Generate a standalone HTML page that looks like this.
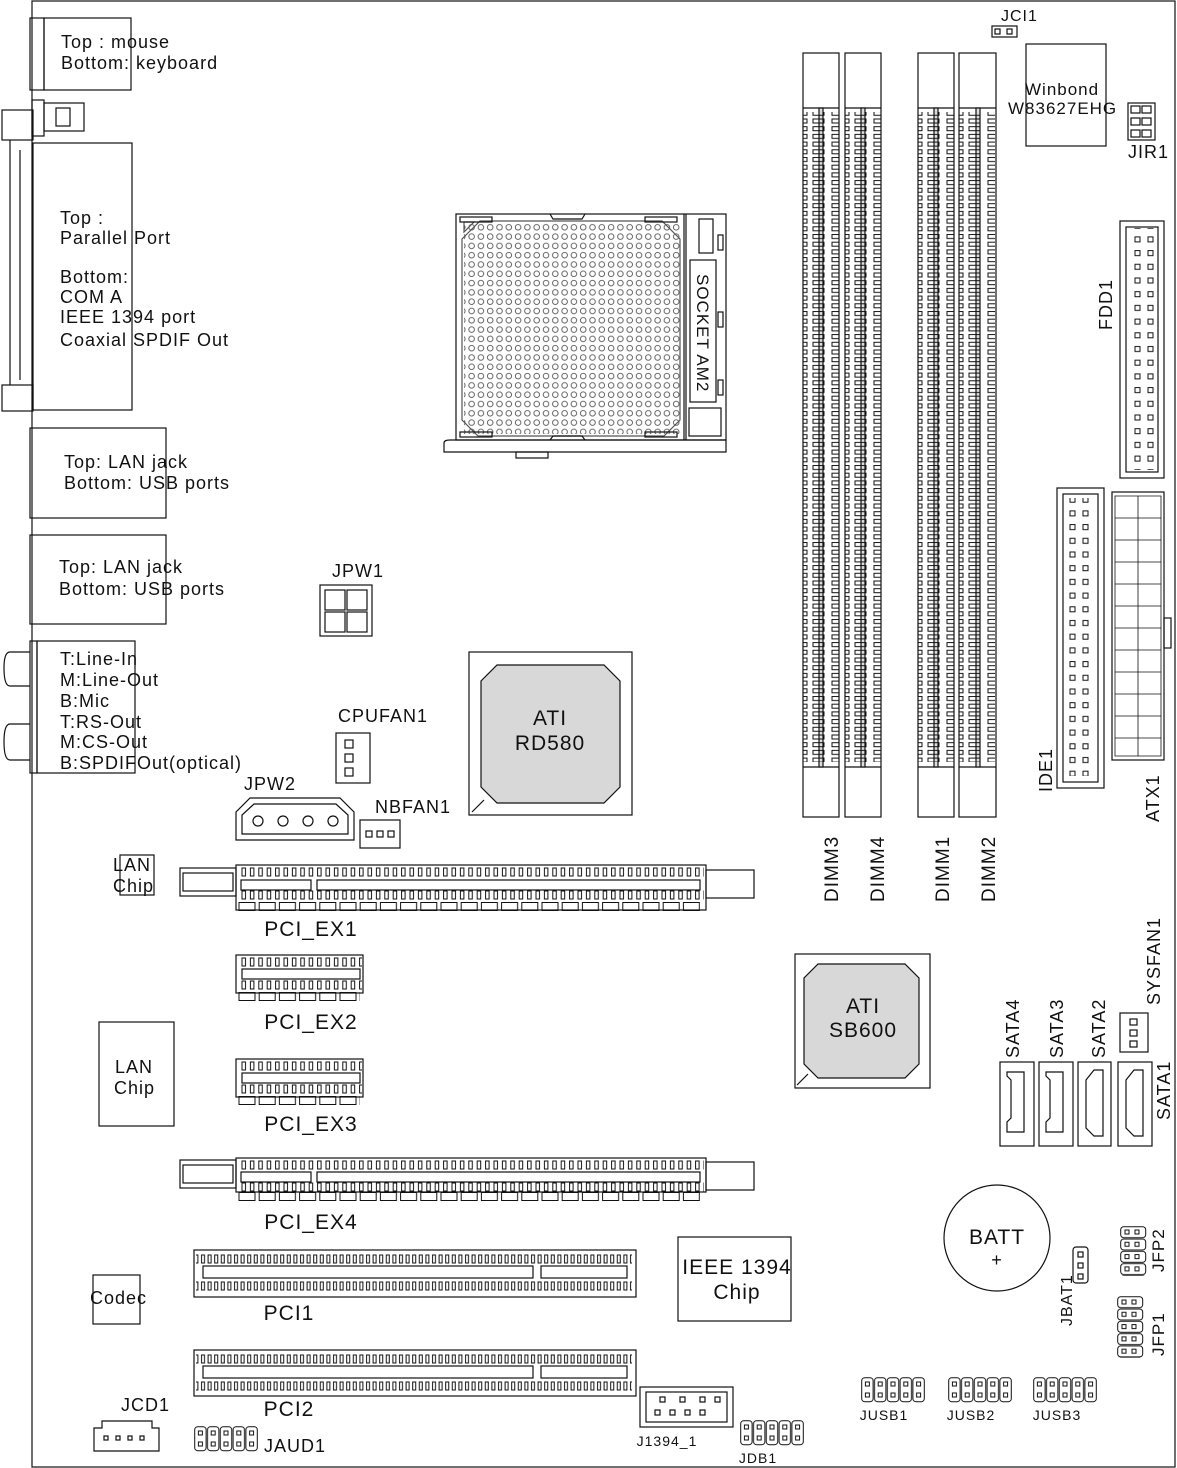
<!DOCTYPE html>
<html><head><meta charset="utf-8"><style>
html,body{margin:0;padding:0;background:#fff}
svg{display:block}
text{font-family:"Liberation Sans",sans-serif;fill:#111}
</style></head><body>
<svg width="1177" height="1468" viewBox="0 0 1177 1468" xmlns="http://www.w3.org/2000/svg">
<defs>
<pattern id="pins" x="467" y="232" width="9.3" height="9.3" patternUnits="userSpaceOnUse">
<circle cx="4.6" cy="4.6" r="2.8" fill="none" stroke="#555" stroke-width="0.9"/></pattern>
<pattern id="dimm" x="0" y="118" width="36" height="7.7" patternUnits="userSpaceOnUse">
<rect x="4" y="1" width="11" height="4" fill="none" stroke="#111" stroke-width="1"/>
<rect x="21" y="1" width="11" height="4" fill="none" stroke="#111" stroke-width="1"/></pattern>
<pattern id="pcie" x="240" y="0" width="8.4" height="10" patternUnits="userSpaceOnUse">
<rect x="2" y="1" width="3.5" height="8" fill="none" stroke="#111" stroke-width="1"/></pattern>
<pattern id="tabs" x="238" y="0" width="20.2" height="10" patternUnits="userSpaceOnUse">
<rect x="1" y="0.5" width="16" height="8" fill="none" stroke="#111" stroke-width="1"/></pattern>
<pattern id="pci" x="200" y="0" width="6.6" height="10" patternUnits="userSpaceOnUse">
<rect x="1.5" y="1" width="3" height="8" fill="none" stroke="#111" stroke-width="1"/></pattern>
<pattern id="hcol" x="0" y="0" width="12.8" height="26" patternUnits="userSpaceOnUse">
<rect x="0.7" y="0.7" width="11.4" height="24" rx="3" fill="none" stroke="#111" stroke-width="1"/>
<rect x="4.4" y="5" width="4" height="4" fill="none" stroke="#111" stroke-width="1"/>
<rect x="4.4" y="16" width="4" height="4" fill="none" stroke="#111" stroke-width="1"/></pattern>
<pattern id="hrow" x="0" y="0" width="28" height="12.3" patternUnits="userSpaceOnUse">
<rect x="0.7" y="0.7" width="25" height="11" rx="3" fill="none" stroke="#111" stroke-width="1"/>
<rect x="5" y="4" width="4" height="4" fill="none" stroke="#111" stroke-width="1"/>
<rect x="15" y="4" width="4" height="4" fill="none" stroke="#111" stroke-width="1"/></pattern>
<pattern id="hdrv" x="0" y="0" width="13" height="13.7" patternUnits="userSpaceOnUse">
<rect x="4" y="4" width="5" height="5" fill="none" stroke="#111" stroke-width="1"/></pattern>
</defs>
<g fill="none" stroke="#111" stroke-width="1.2">
<rect x="32" y="1" width="1143" height="1466"/>
<rect x="44" y="18" width="87" height="72"/>
<rect x="30" y="18" width="14" height="72"/>
<rect x="32" y="100" width="12" height="36"/><rect x="44" y="103" width="40" height="28"/><rect x="56" y="108" width="14" height="18"/>
<rect x="33" y="143" width="99" height="267"/>
<rect x="2" y="110" width="31" height="30"/><rect x="2" y="385" width="31" height="26"/>
<path d="M10 140 V385 M20 150 V380"/>
<rect x="30" y="428" width="136" height="90"/>
<rect x="30" y="535" width="136" height="89"/>
<rect x="37" y="641" width="98" height="132"/>
<rect x="30" y="641" width="7" height="132"/>
<path d="M30 652 H10 Q4 652 4 668 Q4 686 10 686 H30 M30 724 H10 Q4 724 4 742 Q4 760 10 760 H30"/>
<!-- socket -->
<rect x="456" y="214" width="270" height="226"/>
<path d="M444 452 V443 Q444 440 450 440 H726 V452 Z"/>
<rect x="516" y="452" width="32" height="6"/>
<path d="M480 221 H662 L680 239 V420 L664 436 H478 L462 420 V239 Z" stroke="#555"/>
<rect x="464" y="222" width="216" height="212" fill="url(#pins)" stroke="none"/>
<path d="M464 222 H474 L464 232 Z" stroke="#555"/>
<rect x="460" y="217" width="32" height="5"/><rect x="645" y="217" width="32" height="5"/>
<rect x="460" y="432" width="32" height="5"/><rect x="645" y="432" width="32" height="5"/>
<path d="M550 214 L553 219 H582 L585 214 M550 440 L553 436 H582 L585 440"/>
<path d="M684 214 V440 M686 214 V440"/>
<rect x="699" y="219" width="14" height="34"/><rect x="718" y="235" width="5" height="15"/>
<rect x="690" y="260" width="26" height="142"/>
<rect x="718" y="312" width="5" height="15"/><rect x="718" y="380" width="5" height="15"/>
<rect x="689" y="408" width="32" height="28"/>
<rect x="320" y="585" width="52" height="51"/><rect x="325" y="590" width="20" height="20"/><rect x="347" y="590" width="20" height="20"/><rect x="325" y="612" width="20" height="20"/><rect x="347" y="612" width="20" height="20"/>
<rect x="336" y="733" width="34" height="50"/><rect x="345" y="740" width="8" height="8"/><rect x="345" y="754" width="8" height="8"/><rect x="345" y="768" width="8" height="8"/>
<path d="M236 840 V812 L250 798 H340 L354 812 V840 Z"/><path d="M242 834 V815 L254 804 H336 L348 815 V834 Z"/>
<circle cx="258" cy="821" r="5"/><circle cx="283" cy="821" r="5"/><circle cx="308" cy="821" r="5"/><circle cx="333" cy="821" r="5"/>
<rect x="360" y="820" width="40" height="28"/><rect x="366" y="831" width="6" height="6"/><rect x="377" y="831" width="6" height="6"/><rect x="388" y="831" width="6" height="6"/>
<rect x="469" y="652" width="163" height="163"/>
<path d="M497 665 H604 L620 681 V787 L604 803 H497 L481 787 V681 Z" fill="#d8d8d8"/>
<path d="M472 812 L484 800"/>
<rect x="120" y="855" width="34" height="40"/>
<!-- PCI_EX1 -->
<rect x="236" y="865" width="470" height="45"/>
<rect x="180" y="868" width="56" height="28"/><rect x="183" y="873" width="50" height="18"/>
<rect x="706" y="870" width="48" height="28"/>
<rect x="241" y="880" width="70" height="10"/><rect x="317" y="880" width="383" height="10"/>
<g transform="translate(0 867)"><rect x="238" y="0" width="466" height="10" fill="url(#pcie)" stroke="none"/></g>
<g transform="translate(0 890)"><rect x="238" y="0" width="466" height="10" fill="url(#pcie)" stroke="none"/></g>
<g transform="translate(0 902)"><rect x="238" y="0" width="462" height="10" fill="url(#tabs)" stroke="none"/></g>
<rect x="236" y="955" width="127" height="38"/><rect x="242" y="969" width="118" height="10"/>
<g transform="translate(0 957)"><rect x="238" y="0" width="124" height="10" fill="url(#pcie)" stroke="none"/></g>
<g transform="translate(0 980)"><rect x="238" y="0" width="124" height="10" fill="url(#pcie)" stroke="none"/></g>
<g transform="translate(0 992)"><rect x="238" y="0" width="122" height="10" fill="url(#tabs)" stroke="none"/></g>
<rect x="236" y="1059" width="127" height="38"/><rect x="242" y="1073" width="118" height="10"/>
<g transform="translate(0 1061)"><rect x="238" y="0" width="124" height="10" fill="url(#pcie)" stroke="none"/></g>
<g transform="translate(0 1084)"><rect x="238" y="0" width="124" height="10" fill="url(#pcie)" stroke="none"/></g>
<g transform="translate(0 1096)"><rect x="238" y="0" width="122" height="10" fill="url(#tabs)" stroke="none"/></g>
<rect x="236" y="1158" width="470" height="34"/>
<rect x="180" y="1160" width="56" height="28"/><rect x="183" y="1165" width="50" height="18"/><rect x="706" y="1162" width="48" height="28"/>
<rect x="241" y="1172" width="70" height="10"/><rect x="317" y="1172" width="383" height="10"/>
<g transform="translate(0 1160)"><rect x="238" y="0" width="466" height="10" fill="url(#pcie)" stroke="none"/></g>
<g transform="translate(0 1182)"><rect x="238" y="0" width="466" height="10" fill="url(#pcie)" stroke="none"/></g>
<g transform="translate(0 1192)"><rect x="238" y="0" width="462" height="10" fill="url(#tabs)" stroke="none"/></g>
<rect x="99" y="1022" width="75" height="104"/>
<rect x="194" y="1250" width="442" height="47"/><rect x="203" y="1266" width="330" height="12"/><rect x="541" y="1266" width="86" height="12"/>
<g transform="translate(0 1254)"><rect x="196" y="0" width="436" height="10" fill="url(#pci)" stroke="none"/></g>
<g transform="translate(0 1281)"><rect x="196" y="0" width="436" height="10" fill="url(#pci)" stroke="none"/></g>
<rect x="194" y="1350" width="442" height="46"/><rect x="203" y="1366" width="330" height="12"/><rect x="541" y="1366" width="86" height="12"/>
<g transform="translate(0 1354)"><rect x="196" y="0" width="436" height="10" fill="url(#pci)" stroke="none"/></g>
<g transform="translate(0 1381)"><rect x="196" y="0" width="436" height="10" fill="url(#pci)" stroke="none"/></g>
<rect x="93" y="1275" width="47" height="49"/>
<path d="M94 1451 V1428 H102 V1421 H152 V1428 H159 V1451 Z"/>
<rect x="104" y="1436" width="4" height="4"/><rect x="116" y="1436" width="4" height="4"/><rect x="128" y="1436" width="4" height="4"/><rect x="140" y="1436" width="4" height="4"/>
<g transform="translate(194 1426)"><rect x="0" y="0" width="64" height="26" fill="url(#hcol)" stroke="none"/></g>
<rect x="678" y="1237" width="113" height="84"/>
<rect x="640" y="1387" width="93" height="40"/><rect x="646" y="1392" width="81" height="30"/>
<rect x="660" y="1397" width="5" height="5"/><rect x="680" y="1397" width="5" height="5"/><rect x="700" y="1397" width="5" height="5"/><rect x="715" y="1397" width="5" height="5"/>
<rect x="655" y="1410" width="5" height="5"/><rect x="670" y="1410" width="5" height="5"/><rect x="685" y="1410" width="5" height="5"/><rect x="700" y="1410" width="5" height="5"/>
<g transform="translate(740 1420)"><rect x="0" y="0" width="64" height="26" fill="url(#hcol)" stroke="none"/></g>
<rect x="795" y="954" width="135" height="134"/>
<path d="M818 964 H905 L919 978 V1064 L905 1078 H818 L804 1064 V978 Z" fill="#d8d8d8"/>
<path d="M797 1085 L808 1074"/>
<!-- DIMMs -->
<rect x="803" y="53" width="36" height="764"/><path d="M803 108 H839 M803 767 H839"/><rect x="819" y="108" width="4" height="659" fill="#ddd"/>
<rect x="803" y="112" width="36" height="650" fill="url(#dimm)" stroke="none"/>
<g transform="translate(42 0)"><rect x="803" y="53" width="36" height="764"/><path d="M803 108 H839 M803 767 H839"/><rect x="819" y="108" width="4" height="659" fill="#ddd"/>
<rect x="803" y="112" width="36" height="650" fill="url(#dimm)" stroke="none"/></g>
<g transform="translate(115 0)"><rect x="803" y="53" width="36" height="764"/><path d="M803 108 H839 M803 767 H839"/><rect x="819" y="108" width="4" height="659" fill="#ddd"/>
<rect x="803" y="112" width="36" height="650" fill="url(#dimm)" stroke="none"/></g>
<g transform="translate(156 0)"><rect x="803" y="53" width="37" height="764"/><path d="M803 108 H840 M803 767 H840"/><rect x="820" y="108" width="4" height="659" fill="#ddd"/>
<rect x="803" y="112" width="36" height="650" fill="url(#dimm)" stroke="none"/></g>
<rect x="1026" y="44" width="80" height="102"/>
<rect x="992" y="26" width="25" height="11"/><rect x="995" y="29" width="5" height="5"/><rect x="1007" y="29" width="5" height="5"/>
<rect x="1128" y="103" width="27" height="37"/><rect x="1131" y="106" width="9" height="7"/><rect x="1142" y="106" width="9" height="7"/><rect x="1131" y="118" width="9" height="7"/><rect x="1142" y="118" width="9" height="7"/><rect x="1131" y="130" width="9" height="7"/><rect x="1142" y="130" width="9" height="7"/>
<rect x="1120" y="221" width="44" height="257"/><rect x="1126" y="227" width="32" height="245"/>
<rect x="1129" y="228" width="26" height="242" fill="url(#hdrv)" stroke="none"/>
<rect x="1057" y="488" width="47" height="300"/><rect x="1063" y="494" width="35" height="288"/>
<rect x="1068" y="498" width="26" height="278" fill="url(#hdrv)" stroke="none"/>
<rect x="1112" y="492" width="52" height="268"/><rect x="1164" y="618" width="7" height="30"/>
<path d="M1115 496 H1161 V756 H1115 Z M1138 496 V756 M1115 518 H1161 M1115 540 H1161 M1115 562 H1161 M1115 584 H1161 M1115 606 H1161 M1115 628 H1161 M1115 650 H1161 M1115 672 H1161 M1115 694 H1161 M1115 716 H1161 M1115 738 H1161" stroke-width="0.8"/>
<rect x="1120" y="1013" width="28" height="39"/><rect x="1130" y="1019" width="7" height="6"/><rect x="1130" y="1030" width="7" height="6"/><rect x="1130" y="1041" width="7" height="6"/>
<rect x="1000" y="1062" width="34" height="84"/><path d="M1007 1072 H1024 V1132 H1007 V1122 L1011 1118 V1080 L1007 1076 Z"/>
<rect x="1039" y="1062" width="34" height="84"/><path d="M1046 1072 H1063 V1132 H1046 V1122 L1050 1118 V1080 L1046 1076 Z"/>
<rect x="1078" y="1062" width="33" height="84"/><path d="M1086 1080 L1094 1070 H1103 V1136 H1094 L1086 1128 Z"/>
<rect x="1118" y="1062" width="34" height="84"/><path d="M1126 1080 L1134 1070 H1143 V1136 H1134 L1126 1128 Z"/>
<circle cx="997" cy="1238" r="53"/>
<rect x="1073" y="1247" width="15" height="36" rx="3"/><rect x="1078" y="1252" width="5" height="5"/><rect x="1078" y="1263" width="5" height="5"/><rect x="1078" y="1274" width="5" height="5"/>
<g transform="translate(1120 1226)"><rect x="0" y="0" width="28" height="50" fill="url(#hrow)" stroke="none"/></g>
<g transform="translate(1117 1296)"><rect x="0" y="0" width="28" height="62" fill="url(#hrow)" stroke="none"/></g>
<g transform="translate(861 1377)"><rect x="0" y="0" width="64" height="26" fill="url(#hcol)" stroke="none"/></g>
<g transform="translate(948 1377)"><rect x="0" y="0" width="64" height="26" fill="url(#hcol)" stroke="none"/></g>
<g transform="translate(1033 1377)"><rect x="0" y="0" width="64" height="26" fill="url(#hcol)" stroke="none"/></g>
</g>
<g font-size="18" letter-spacing="1">
<text x="61" y="48">Top : mouse</text>
<text x="61" y="69">Bottom: keyboard</text>
<text x="60" y="224">Top :</text>
<text x="60" y="244">Parallel Port</text>
<text x="60" y="283">Bottom:</text>
<text x="60" y="303">COM A</text>
<text x="60" y="323">IEEE 1394 port</text>
<text x="60" y="346">Coaxial SPDIF Out</text>
<text x="64" y="468">Top: LAN jack</text>
<text x="64" y="489">Bottom: USB ports</text>
<text x="59" y="573">Top: LAN jack</text>
<text x="59" y="595">Bottom: USB ports</text>
<text x="60" y="665">T:Line-In</text>
<text x="60" y="686">M:Line-Out</text>
<text x="60" y="707">B:Mic</text>
<text x="60" y="728">T:RS-Out</text>
<text x="60" y="748">M:CS-Out</text>
<text x="60" y="769">B:SPDIFOut(optical)</text>
<text x="332" y="577">JPW1</text>
<text x="338" y="722">CPUFAN1</text>
<text x="244" y="790">JPW2</text>
<text x="375" y="813">NBFAN1</text>
<text x="113" y="871">LAN</text>
<text x="113" y="892">Chip</text>
<text x="115" y="1073">LAN</text>
<text x="114" y="1094">Chip</text>
<text x="90" y="1304">Codec</text>
<text x="121" y="1411">JCD1</text>
<text x="264" y="1452">JAUD1</text>
<text x="1001" y="21" font-size="16">JCI1</text>
<text x="1128" y="158">JIR1</text>
<text x="1025" y="95" font-size="17">Winbond</text>
<text x="1008" y="114" font-size="17">W83627EHG</text>
</g>
<g font-size="21" text-anchor="middle" letter-spacing="1">
<text x="550" y="725">ATI</text><text x="550" y="750">RD580</text>
<text x="863" y="1013">ATI</text><text x="863" y="1037">SB600</text>
<text x="311" y="936">PCI_EX1</text>
<text x="311" y="1029">PCI_EX2</text>
<text x="311" y="1131">PCI_EX3</text>
<text x="311" y="1229">PCI_EX4</text>
<text x="289" y="1320">PCI1</text>
<text x="289" y="1416">PCI2</text>
<text x="737" y="1274">IEEE 1394</text>
<text x="737" y="1299">Chip</text>
<text x="997" y="1244">BATT</text>
<text x="997" y="1266" font-size="18">+</text>
</g>
<g font-size="14" text-anchor="middle" letter-spacing="1">
<text x="667" y="1446">J1394_1</text>
<text x="758" y="1463">JDB1</text>
<text x="884" y="1420">JUSB1</text>
<text x="971" y="1420">JUSB2</text>
<text x="1057" y="1420">JUSB3</text>
</g>
<g font-size="19" letter-spacing="1">
<text transform="translate(697 274) rotate(90)" font-size="17">SOCKET AM2</text>
<text transform="translate(838 902) rotate(-90)">DIMM3</text>
<text transform="translate(884 902) rotate(-90)">DIMM4</text>
<text transform="translate(949 902) rotate(-90)">DIMM1</text>
<text transform="translate(995 902) rotate(-90)">DIMM2</text>
<text transform="translate(1112 330) rotate(-90)" font-size="18">FDD1</text>
<text transform="translate(1052 792) rotate(-90)" font-size="18">IDE1</text>
<text transform="translate(1159 822) rotate(-90)" font-size="18">ATX1</text>
<text transform="translate(1160 1005) rotate(-90)" font-size="18">SYSFAN1</text>
<text transform="translate(1019 1058) rotate(-90)" font-size="18">SATA4</text>
<text transform="translate(1063 1058) rotate(-90)" font-size="18">SATA3</text>
<text transform="translate(1105 1058) rotate(-90)" font-size="18">SATA2</text>
<text transform="translate(1170 1120) rotate(-90)" font-size="18">SATA1</text>
<text transform="translate(1072 1326) rotate(-90)" font-size="16">JBAT1</text>
<text transform="translate(1164 1272) rotate(-90)" font-size="17">JFP2</text>
<text transform="translate(1164 1356) rotate(-90)" font-size="17">JFP1</text>
</g>
</svg>
</body></html>
